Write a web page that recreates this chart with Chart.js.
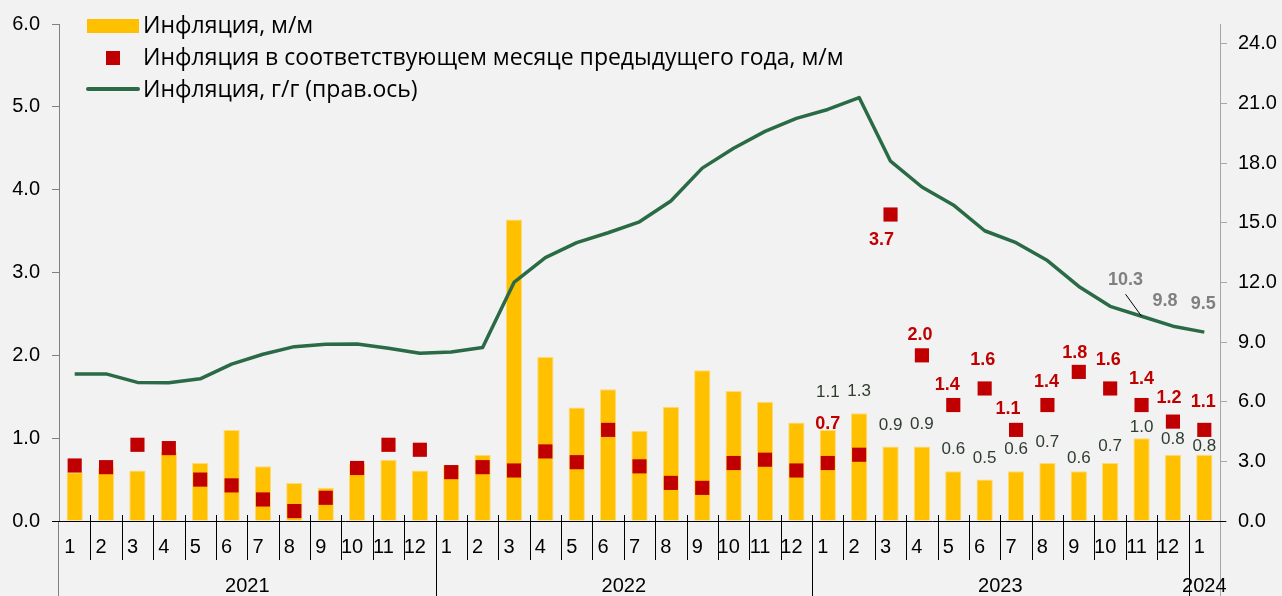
<!DOCTYPE html>
<html lang="ru">
<head>
<meta charset="utf-8">
<title>Инфляция</title>
<script src="https://cdn.jsdelivr.net/npm/chart.js@4.4.1/dist/chart.umd.min.js"></script>
<style>
    html, body { margin: 0; padding: 0; background: #f2f2f2; }
    .chart-box { position: relative; width: 1282px; height: 596px; }
</style>
</head>
<body>
<div class="chart-box"><canvas id="inflChart"></canvas></div>
<script>
    // месяцы и годы по оси X
    var months = ['1', '2', '3', '4', '5', '6', '7', '8', '9', '10', '11', '12',
        '1', '2', '3', '4', '5', '6', '7', '8', '9', '10', '11', '12',
        '1', '2', '3', '4', '5', '6', '7', '8', '9', '10', '11', '12',
        '1'];
    var years = ['2021', '2022', '2023', '2024'];
    var yearLen = [12, 12, 12, 1];

    // деления осей
    var leftTicks = [0, 1, 2, 3, 4, 5, 6];
    var rightTicks = [0, 3, 6, 9, 12, 15, 18, 21, 24];

    // инфляция, м/м
    var infMM = [0.59, 0.65, 0.61, 0.84, 0.70, 1.10, 0.66, 0.46, 0.40, 0.69, 0.74, 0.61,
        0.68, 0.80, 3.64, 1.98, 1.37, 1.59, 1.09, 1.38, 1.82, 1.57, 1.44, 1.19,
        1.1, 1.3, 0.9, 0.9, 0.6, 0.5, 0.6, 0.7, 0.6, 0.7, 1.0, 0.8,
        0.8];
    // инфляция в том же месяце предыдущего года, м/м
    var infPrevYear = [0.67, 0.65, 0.92, 0.88, 0.50, 0.43, 0.26, 0.12, 0.28, 0.64, 0.92, 0.86,
        0.59, 0.65, 0.61, 0.84, 0.71, 1.10, 0.66, 0.46, 0.40, 0.70, 0.74, 0.61,
        0.7, 0.8, 3.7, 2.0, 1.4, 1.6, 1.1, 1.4, 1.8, 1.6, 1.4, 1.2,
        1.1];
    // инфляция, г/г
    var infYY = [7.39, 7.4, 6.97, 6.95, 7.15, 7.89, 8.39, 8.77, 8.89, 8.9, 8.69, 8.44,
        8.5, 8.73, 12.0, 13.25, 14.0, 14.5, 15.05, 16.1, 17.75, 18.75, 19.6, 20.25,
        20.7, 21.3, 18.1, 16.8, 15.9, 14.6, 14.0, 13.1, 11.8, 10.8, 10.3, 9.8,
        9.5];

    // подписи значений: с какого месяца и какие точки
    var labelFrom = 24;
    var redSkip = [25];
    var lineLabelIdx = [34, 35, 36];

    // сдвиги подписей (пиксели)
    var barLift = [38, 22, 21, 22, 22, 21, 22, 21, 13, 17, 11, 15, 8];
    var redShift = [[0, -39], null, [-9, 26], [-2, -20], [-6, -20], [-2, -28], [-8, -21],
        [-1, -23], [-4, -19], [-2, -28], [0, -26], [-4, -24], [-1, -28]];
    var lineShift = [[-16, -36], [-8, -25], [-1, -28]];

    var FONT = '"Liberation Sans", Arial, sans-serif';
    var LEGEND_FONT = '"Open Sans", "Noto Sans", sans-serif';
    Chart.defaults.font.family = FONT;
    Chart.defaults.color = '#000';

    //подписи значений
    var valueLabels = {
        id: 'valueLabels',
        afterDatasetsDraw: function (chart) {
            var ctx = chart.ctx;
            var bars = chart.getDatasetMeta(0).data;
            var squares = chart.getDatasetMeta(1).data;
            var line = chart.getDatasetMeta(2).data;
            ctx.save();
            ctx.textAlign = 'center';
            ctx.textBaseline = 'middle';

            ctx.font = '17px ' + FONT;
            ctx.fillStyle = '#2f3d31';
            for (var i = labelFrom; i < months.length; i++) {
                ctx.fillText(infMM[i].toFixed(1), bars[i].x, bars[i].y - barLift[i - labelFrom]);
            }

            ctx.font = 'bold 18px ' + FONT;
            ctx.fillStyle = '#c00000';
            for (var j = labelFrom; j < months.length; j++) {
                if (redSkip.indexOf(j) >= 0) continue;
                var s = redShift[j - labelFrom];
                ctx.fillText(infPrevYear[j].toFixed(1), squares[j].x + s[0], squares[j].y + s[1]);
            }

            ctx.fillStyle = '#808080';
            lineLabelIdx.forEach(function (k, n) {
                var p = line[k];
                var tx = p.x + lineShift[n][0];
                var ty = p.y + lineShift[n][1];
                ctx.fillText(infYY[k].toFixed(1), tx, ty);
                if (n === 0) {
                    // выноска к точке
                    ctx.strokeStyle = '#000';
                    ctx.lineWidth = 1;
                    ctx.beginPath();
                    ctx.moveTo(tx, ty + 14);
                    ctx.lineTo(p.x, p.y);
                    ctx.stroke();
                }
            });
            ctx.restore();
        }
    };

    //засечки оси X, годы и легенда
    var axisMarks = {
        id: 'axisMarks',
        afterDraw: function (chart) {
            var ctx = chart.ctx;
            var a = chart.chartArea;
            var H = chart.height;
            var step = (a.right - a.left) / months.length;
            ctx.save();
            ctx.lineWidth = 1;

            // оси продолжаются вниз под подписями
            ctx.strokeStyle = '#808080';
            ctx.beginPath();
            ctx.moveTo(Math.round(a.left) - 0.5, a.bottom);
            ctx.lineTo(Math.round(a.left) - 0.5, H);
            ctx.stroke();
            ctx.strokeStyle = '#a6a6a6';
            ctx.beginPath();
            ctx.moveTo(Math.round(a.right) + 0.5, a.bottom);
            ctx.lineTo(Math.round(a.right) + 0.5, H);
            ctx.stroke();

            var yearBreaks = [];
            var acc = 0;
            yearLen.forEach(function (n) { acc += n; yearBreaks.push(acc); });

            ctx.strokeStyle = '#000';
            for (var i = 1; i < months.length; i++) {
                var x = Math.round(a.left + i * step) + 0.5;
                ctx.beginPath();
                ctx.moveTo(x, a.bottom - 6);
                ctx.lineTo(x, yearBreaks.indexOf(i) >= 0 ? H : a.bottom + 39);
                ctx.stroke();
            }
            ctx.beginPath();
            ctx.moveTo(a.left - 7, Math.round(a.bottom) + 0.5);
            ctx.lineTo(a.right + 6, Math.round(a.bottom) + 0.5);
            ctx.stroke();

            ctx.font = '20px ' + FONT;
            ctx.fillStyle = '#000';
            ctx.textAlign = 'center';
            ctx.textBaseline = 'middle';
            var start = 0;
            years.forEach(function (y, n) {
                var cx = a.left + (start + yearLen[n] / 2) * step;
                ctx.fillText(y, cx, 586);
                start += yearLen[n];
            });

            // легенда
            var ds = chart.data.datasets;
            ctx.textAlign = 'left';
            ctx.fillStyle = '#ffc000';
            ctx.fillRect(87, 19, 52, 14);
            ctx.fillStyle = '#c00000';
            ctx.fillRect(106, 51, 14, 14);
            ctx.strokeStyle = '#2a6a45';
            ctx.lineWidth = 4;
            ctx.lineCap = 'round';
            ctx.beginPath();
            ctx.moveTo(88, 89);
            ctx.lineTo(138, 89);
            ctx.stroke();
            ctx.font = '23px ' + LEGEND_FONT;
            ctx.fillStyle = '#000';
            ctx.fillText(ds[0].label, 143, 26);
            ctx.fillText(ds[1].label, 143, 58);
            ctx.fillText(ds[2].label, 143, 90);
            ctx.restore();
        }
    };

    var ctx = document.getElementById('inflChart').getContext('2d');
    var inflChart = new Chart(ctx, {
        data: {
            labels: months,
            datasets: [{
                type: 'bar',
                label: 'Инфляция, м/м',
                data: infMM,
                yAxisID: 'y',
                backgroundColor: '#ffc000',
                borderColor: '#ffdb75',
                borderWidth: 1,
                barPercentage: 0.52,
                categoryPercentage: 1,
                order: 3
            }, {
                type: 'line',
                label: 'Инфляция в соответствующем месяце предыдущего года, м/м',
                data: infPrevYear,
                yAxisID: 'y',
                showLine: false,
                pointStyle: 'rect',
                pointRadius: 10,
                pointBackgroundColor: '#c00000',
                pointBorderColor: '#c00000',
                pointBorderWidth: 0,
                borderWidth: 0,
                order: 2
            }, {
                type: 'line',
                label: 'Инфляция, г/г (прав.ось)',
                data: infYY,
                yAxisID: 'y1',
                borderColor: '#2a6a45',
                borderWidth: 3.5,
                borderJoinStyle: 'round',
                pointRadius: 0,
                tension: 0,
                order: 1
            }]
        },
        options: {
            responsive: true,
            maintainAspectRatio: false,
            animation: false,
            layout: { padding: { top: 19, left: 0, right: 0, bottom: 0 } },
            plugins: {
                legend: { display: false },
                tooltip: { enabled: false }
            },
            scales: {
                x: {
                    type: 'category',
                    offset: true,
                    grid: { display: false, drawTicks: false },
                    border: { display: false },
                    ticks: {
                        font: { size: 20 },
                        color: '#000',
                        padding: 14,
                        labelOffset: -5,
                        maxRotation: 0,
                        autoSkip: false
                    },
                    afterFit: function (s) { s.height = 75; }
                },
                y: {
                    position: 'left',
                    min: 0,
                    max: 6,
                    ticks: {
                        font: { size: 20 },
                        color: '#000',
                        padding: 12,
                        callback: function (v) { return v.toFixed(1); }
                    },
                    afterBuildTicks: function (s) {
                        s.ticks = leftTicks.map(function (v) { return { value: v }; });
                    },
                    grid: { drawOnChartArea: false, tickLength: 7, color: '#808080' },
                    border: { color: '#808080' },
                    afterFit: function (s) { s.width = 59; }
                },
                y1: {
                    position: 'right',
                    min: 0,
                    max: 25,
                    ticks: {
                        font: { size: 20 },
                        color: '#000',
                        padding: 11,
                        callback: function (v) { return v.toFixed(1); }
                    },
                    afterBuildTicks: function (s) {
                        s.ticks = rightTicks.map(function (v) { return { value: v }; });
                    },
                    grid: { drawOnChartArea: false, tickLength: 7, color: '#a6a6a6' },
                    border: { color: '#a6a6a6' },
                    afterFit: function (s) { s.width = 62; }
                }
            }
        },
        plugins: [valueLabels, axisMarks]
    });
</script>
</body>
</html>
